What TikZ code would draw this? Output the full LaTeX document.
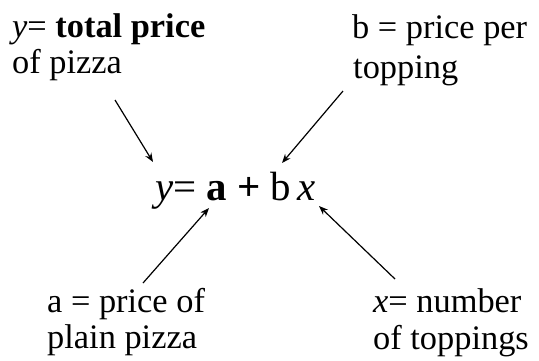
\documentclass[tikz,border=0pt]{standalone}
\usepackage{fontspec}
\setmainfont{Liberation Serif}
\usetikzlibrary{arrows.meta}
\tikzset{
  lbl/.style={anchor=base west, inner sep=0pt, font=\fontsize{34.5}{38}\selectfont},
  eqn/.style={anchor=base west, inner sep=0pt, font=\fontsize{41}{45}\selectfont},
  ptr/.style={draw=black, line width=1.2bp, -{Stealth[length=9bp,width=7bp]}}
}
\begin{document}
\begin{tikzpicture}[x=1bp,y=-1bp]
\useasboundingbox (0,0) rectangle (539,360);
% labels
\node[lbl] (y1) at (12,37) {\textit{y}= \textbf{total price}};
\node[lbl] (y2) at (12,73) {of pizza};
\node[lbl] (b1) at (352,38) {b = price per};
\node[lbl] (b2) at (353,78) {topping};
\node[lbl] (a1) at (47,312) {a = price of};
\node[lbl] (a2) at (47,348) {plain pizza};
\node[lbl] (x1) at (373,312) {\textit{x}= number};
\node[lbl] (x2) at (373,349) {of toppings};
% equation
\node[eqn] (eq) at (155,200) {\textit{y}= \textbf{a} \textbf{+} b\,\textit{x}};
% arrow ends
\coordinate (ys) at (115,100);
\coordinate (ye) at (153,162);
\coordinate (bs) at (343,91);
\coordinate (be) at (282,163);
\coordinate (as) at (143,283);
\coordinate (ae) at (209,208);
\coordinate (xs) at (395,279);
\coordinate (xe) at (319,206);
\draw[ptr] (ys) -- (ye);
\draw[ptr] (bs) -- (be);
\draw[ptr] (as) -- (ae);
\draw[ptr] (xs) -- (xe);
\end{tikzpicture}
\end{document}
